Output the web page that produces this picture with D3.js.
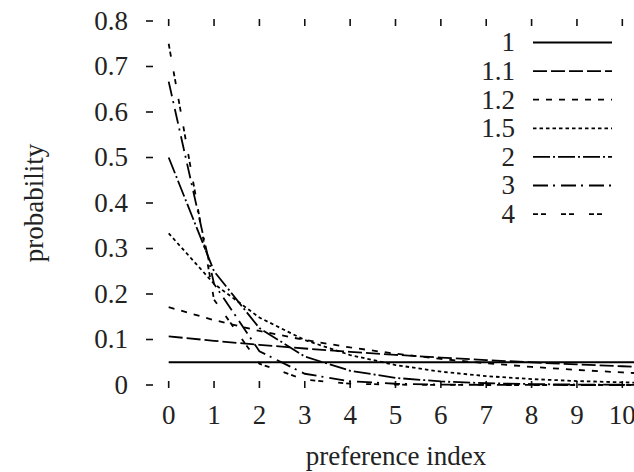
<!DOCTYPE html>
<html><head><meta charset="utf-8">
<script src="https://cdn.jsdelivr.net/npm/d3@7"></script>
<style>
html,body{margin:0;padding:0;background:#fff;}
text{font-family:"Liberation Serif","Times New Roman",serif;fill:#222;}
</style></head>
<body><svg id="c" width="634" height="472"></svg>
<script>
const xIndex = [0,1,2,3,4,5,6,7,8,9,10,11];
const seriesNames = ["1","1.1","1.2","1.5","2","3","4"];
const s1   = [0.05,0.05,0.05,0.05,0.05,0.05,0.05,0.05,0.05,0.05,0.05,0.05];
const s11  = [0.1068,0.0971,0.0883,0.0802,0.0729,0.0663,0.0603,0.0548,0.0498,0.0453,0.0412,0.0374];
const s12  = [0.1711,0.1426,0.1188,0.0990,0.0825,0.0688,0.0573,0.0478,0.0398,0.0332,0.0276,0.0230];
const s15  = [0.3334,0.2223,0.1482,0.0988,0.0659,0.0439,0.0293,0.0195,0.0130,0.0087,0.0058,0.0039];
const s2   = [0.5,0.25,0.125,0.0625,0.0313,0.0156,0.0078,0.0039,0.0020,0.0010,0.0005,0.0002];
const s3   = [0.6667,0.2222,0.0741,0.0247,0.0082,0.0027,0.0009,0.0003,0.0001,0.00003,0.00001,0.0];
const s4   = [0.75,0.1875,0.0469,0.0117,0.0029,0.0007,0.0002,0.00005,0.00001,0.0,0.0,0.0];
const xTickLabels = ["0","1","2","3","4","5","6","7","8","9","10"];
const yTickLabels = ["0","0.1","0.2","0.3","0.4","0.5","0.6","0.7","0.8"];
const yTickValues = [0,0.1,0.2,0.3,0.4,0.5,0.6,0.7,0.8];

const allSeries = [s1,s11,s12,s15,s2,s3,s4];
const dashes = [null,"14,4","6,7","3.5,3","17,3,2,3","15,5,2,6","5,3,5,15"];

const svg = d3.select("#c");
svg.append("rect").attr("width",634).attr("height",472).attr("fill","#fff");

const x = d3.scaleLinear().domain([-0.5,10.5]).range([146,645]);
const y = d3.scaleLinear().domain([0,0.8]).range([385,21]);

// y ticks
const yt = svg.append("g");
yTickValues.forEach((v,i)=>{
  yt.append("line").attr("x1",146).attr("x2",153).attr("y1",y(v)).attr("y2",y(v))
    .attr("stroke","#111").attr("stroke-width",1.6);
  yt.append("text").attr("x",128).attr("y",y(v)).attr("dy","0.33em")
    .attr("text-anchor","end").attr("font-size",27).text(yTickLabels[i]);
});
// x ticks
const xt = svg.append("g");
xTickLabels.forEach((lab,i)=>{
  const v = +lab;
  xt.append("line").attr("x1",x(v)).attr("x2",x(v)).attr("y1",y(0)+3).attr("y2",y(0)-4)
    .attr("stroke","#111").attr("stroke-width",1.6);
  xt.append("line").attr("x1",x(v)).attr("x2",x(v)).attr("y1",y(0.8)-2).attr("y2",y(0.8)+5)
    .attr("stroke","#111").attr("stroke-width",1.6);
  xt.append("text").attr("x",x(v)).attr("y",424).attr("text-anchor","middle")
    .attr("font-size",27).text(lab);
});

svg.append("text").attr("x",396).attr("y",465).attr("text-anchor","middle")
  .attr("font-size",27).text("preference index");
svg.append("text").attr("transform","translate(43,203) rotate(-90)")
  .attr("text-anchor","middle").attr("font-size",27).text("probability");

// clip
svg.append("clipPath").attr("id","pc").append("rect").attr("x",146).attr("y",0).attr("width",500).attr("height",400);

const line = d3.line().x((d,i)=>x(xIndex[i])).y(d=>y(d));
const g = svg.append("g").attr("clip-path","url(#pc)");
allSeries.forEach((s,k)=>{
  const p = g.append("path").attr("d",line(s)).attr("fill","none")
    .attr("stroke","#000").attr("stroke-width",1.8);
  if(dashes[k]) p.attr("stroke-dasharray",dashes[k]);
});

// legend
const lg = svg.append("g");
seriesNames.forEach((n,k)=>{
  const yy = 42.5 + k*28.6;
  lg.append("text").attr("x",515).attr("y",yy).attr("dy","0.33em").attr("text-anchor","end")
    .attr("font-size",27).text(n);
  const l = lg.append("line").attr("x1",533).attr("x2",612).attr("y1",yy).attr("y2",yy)
    .attr("stroke","#000").attr("stroke-width",1.8);
  if(dashes[k]) l.attr("stroke-dasharray",dashes[k]);
});
</script></body></html>
